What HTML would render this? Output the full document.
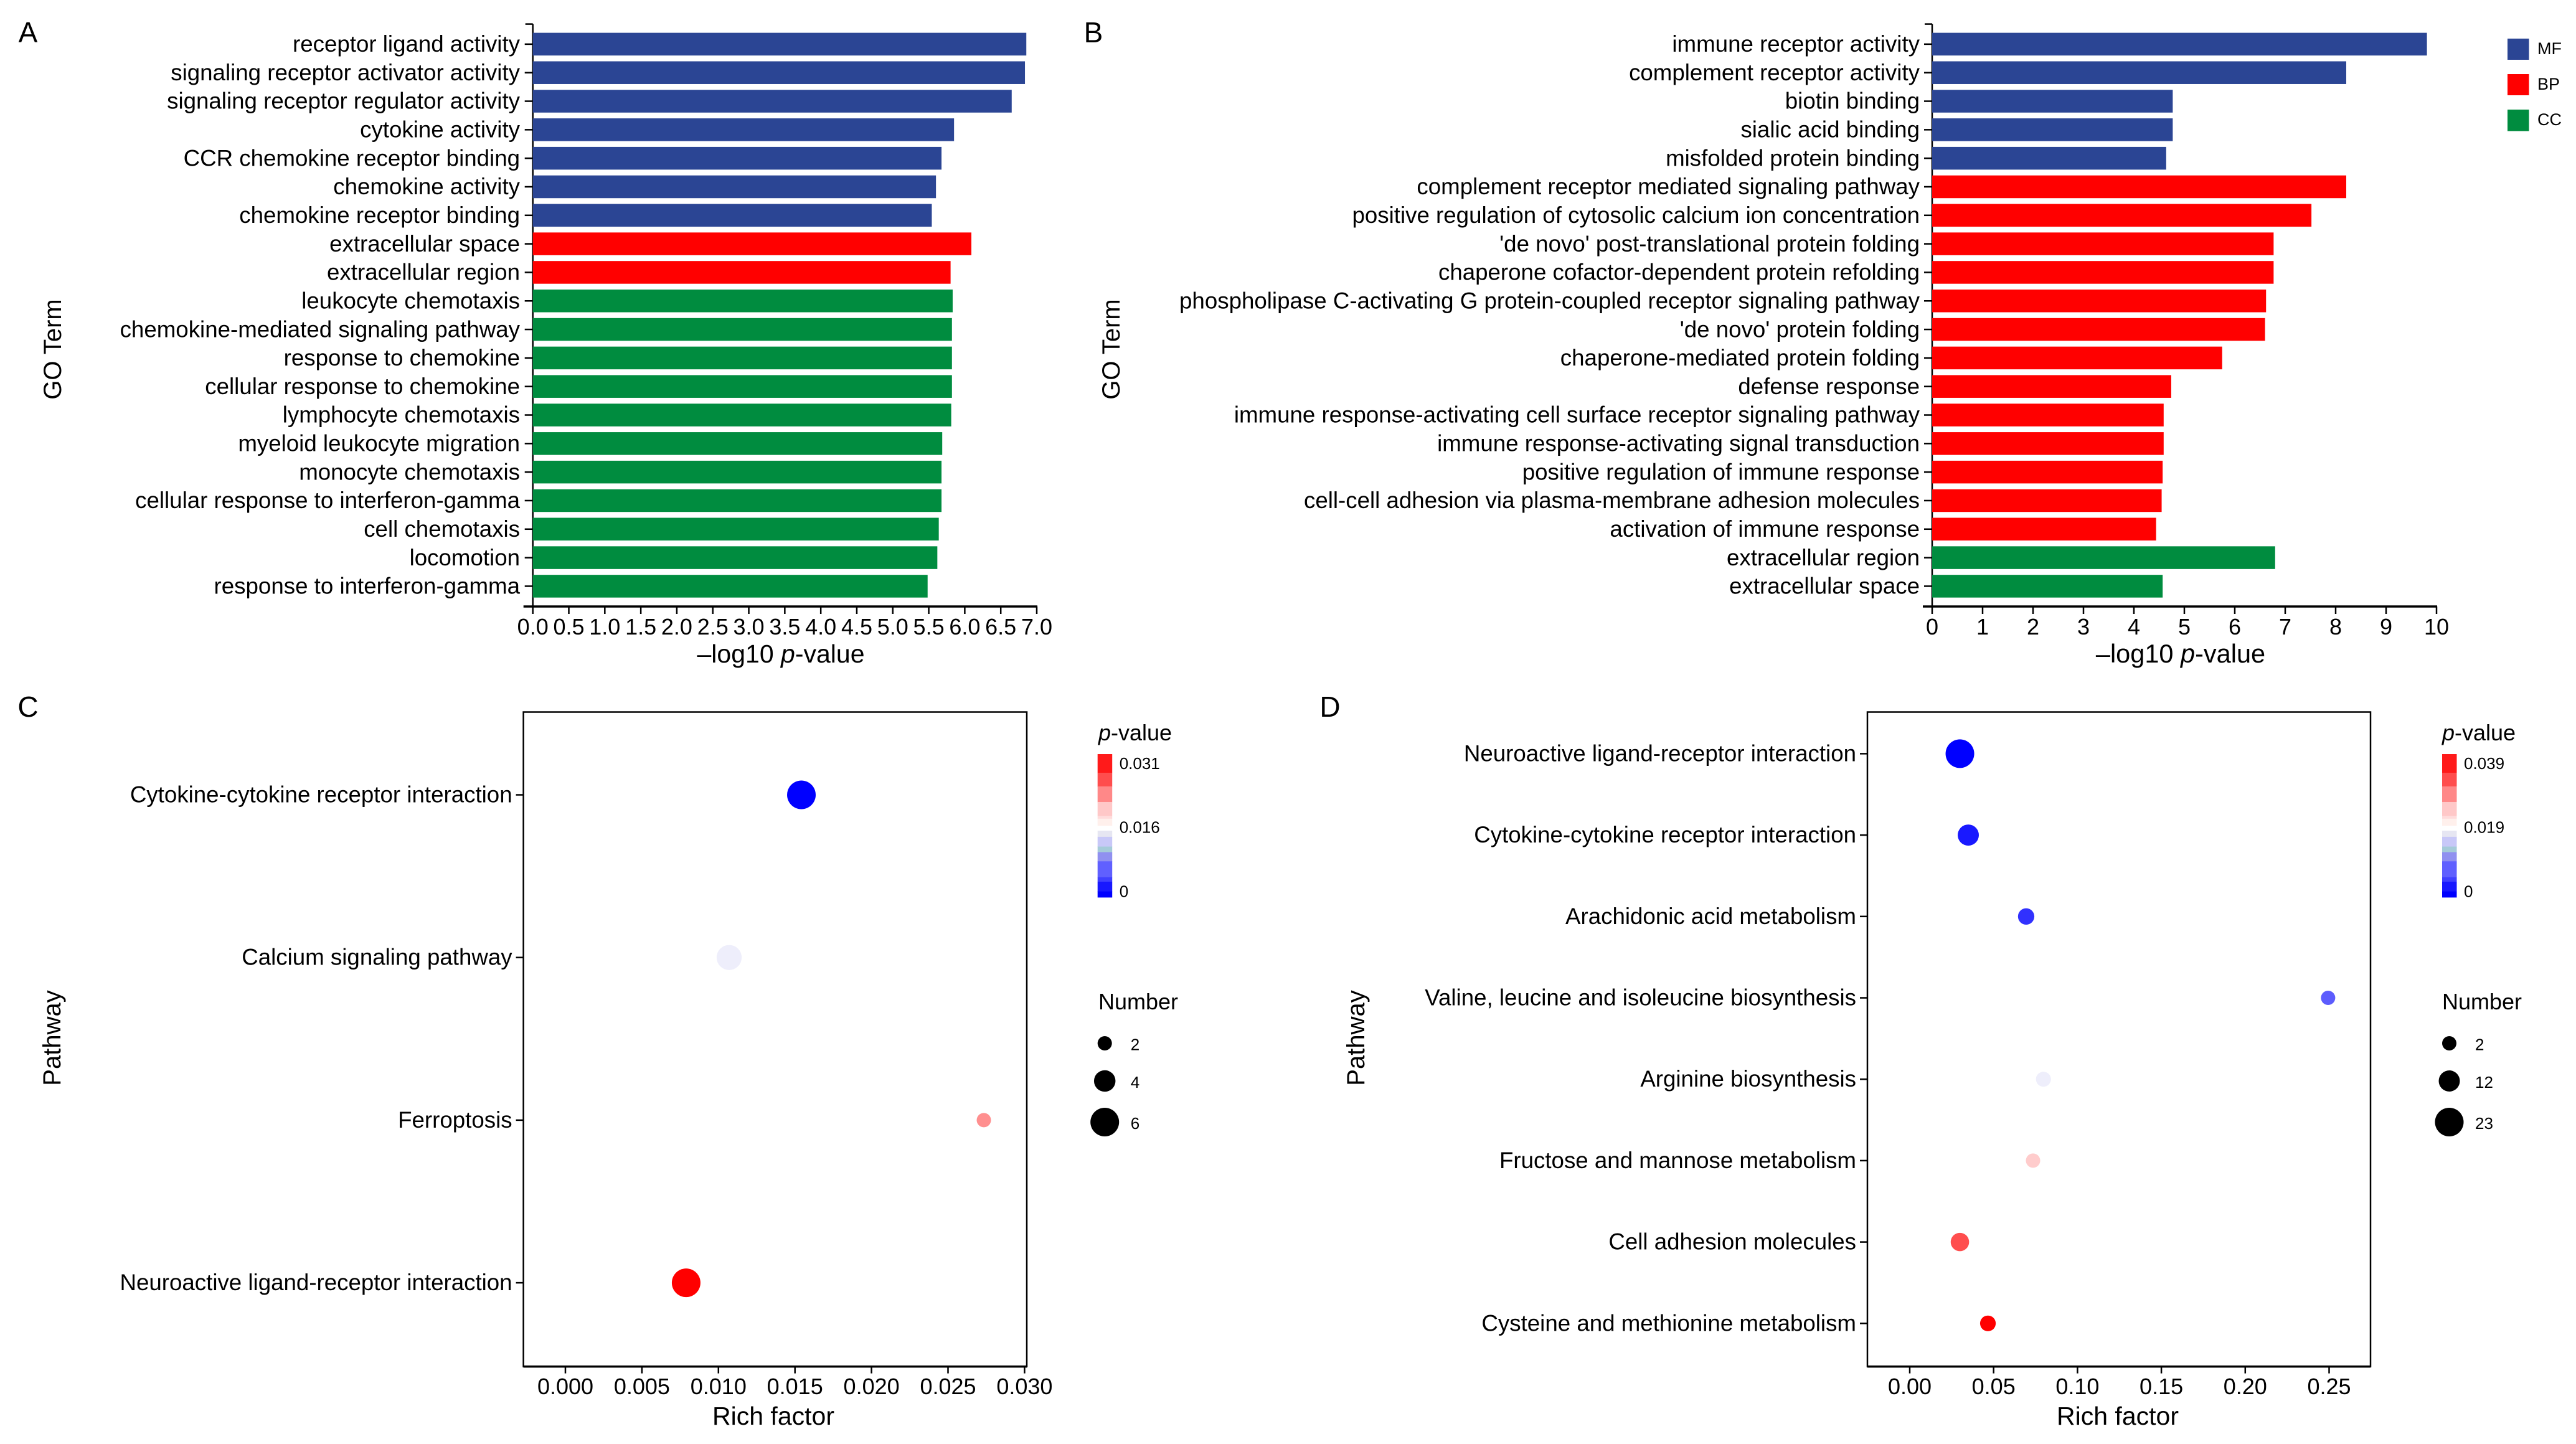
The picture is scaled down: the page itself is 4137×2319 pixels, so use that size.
<!DOCTYPE html>
<html lang="en">
<head>
<meta charset="utf-8">
<title>GO enrichment and pathway charts</title>
<style>
html,body{margin:0;padding:0;background:#fff;}
svg{display:block;}
text{font-family:"Liberation Sans",Arial,sans-serif;fill:#000;}
</style>
</head>
<body>
<svg id="figure" xmlns="http://www.w3.org/2000/svg" width="4137" height="2319" viewBox="0 0 4137 2319">
  <rect x="0" y="0" width="4137" height="2319" fill="#fff"/>

  <text x="45" y="68" font-size="46" text-anchor="middle">A</text>
  <text x="1756" y="68" font-size="46" text-anchor="middle">B</text>
  <text x="45" y="1151" font-size="46" text-anchor="middle">C</text>
  <text x="2136" y="1151" font-size="46" text-anchor="middle">D</text>

  <text transform="translate(98 561) rotate(-90)" font-size="40" text-anchor="middle">GO Term</text>
  <text transform="translate(1798 561) rotate(-90)" font-size="40" text-anchor="middle">GO Term</text>
  <text transform="translate(97 1667) rotate(-90)" font-size="40" text-anchor="middle">Pathway</text>
  <text transform="translate(2191 1667) rotate(-90)" font-size="40" text-anchor="middle">Pathway</text>

  <text x="1254" y="1064" font-size="41" text-anchor="middle">–log10 <tspan font-style="italic">p</tspan>-value</text>
  <text x="3502" y="1064" font-size="41.5" text-anchor="middle">–log10 <tspan font-style="italic">p</tspan>-value</text>
  <text x="1242" y="2288" font-size="41" text-anchor="middle">Rich factor</text>
  <text x="3401" y="2288" font-size="41" text-anchor="middle">Rich factor</text>

  <g>
    <rect x="4027" y="62" width="34.5" height="34" fill="#2b4594"/>
    <text x="4075" y="87" font-size="27">MF</text>
    <rect x="4027" y="119" width="34.5" height="34" fill="#ff0000"/>
    <text x="4075" y="144" font-size="27">BP</text>
    <rect x="4027" y="176" width="34.5" height="34.5" fill="#008c3f"/>
    <text x="4075" y="201" font-size="27">CC</text>
  </g>

  <text x="1764" y="1189" font-size="36"><tspan font-style="italic">p</tspan>-value</text>
  <text x="3922" y="1189" font-size="36"><tspan font-style="italic">p</tspan>-value</text>
  <text x="1764" y="1621" font-size="36">Number</text>
  <text x="3922" y="1621" font-size="36">Number</text>

  <g id="layer"></g>
</svg>

<script>
/* Panel A data */
const aCategories = ["receptor ligand activity","signaling receptor activator activity","signaling receptor regulator activity","cytokine activity","CCR chemokine receptor binding","chemokine activity","chemokine receptor binding","extracellular space","extracellular region","leukocyte chemotaxis","chemokine-mediated signaling pathway","response to chemokine","cellular response to chemokine","lymphocyte chemotaxis","myeloid leukocyte migration","monocyte chemotaxis","cellular response to interferon-gamma","cell chemotaxis","locomotion","response to interferon-gamma"];
const aValues = [6.855,6.836,6.652,5.851,5.677,5.600,5.542,6.092,5.803,5.832,5.822,5.822,5.822,5.812,5.687,5.677,5.677,5.639,5.619,5.484];
const aGroups = ["MF","MF","MF","MF","MF","MF","MF","BP","BP","CC","CC","CC","CC","CC","CC","CC","CC","CC","CC","CC"];
const aTicks = ["0.0","0.5","1.0","1.5","2.0","2.5","3.0","3.5","4.0","4.5","5.0","5.5","6.0","6.5","7.0"];

/* Panel B data */
const bCategories = ["immune receptor activity","complement receptor activity","biotin binding","sialic acid binding","misfolded protein binding","complement receptor mediated signaling pathway","positive regulation of cytosolic calcium ion concentration","'de novo' post-translational protein folding","chaperone cofactor-dependent protein refolding","phospholipase C-activating G protein-coupled receptor signaling pathway","'de novo' protein folding","chaperone-mediated protein folding","defense response","immune response-activating cell surface receptor signaling pathway","immune response-activating signal transduction","positive regulation of immune response","cell-cell adhesion via plasma-membrane adhesion molecules","activation of immune response","extracellular region","extracellular space"];
const bValues = [9.81,8.21,4.77,4.77,4.64,8.21,7.52,6.77,6.77,6.62,6.60,5.75,4.74,4.59,4.59,4.57,4.55,4.44,6.80,4.57];
const bGroups = ["MF","MF","MF","MF","MF","BP","BP","BP","BP","BP","BP","BP","BP","BP","BP","BP","BP","BP","CC","CC"];
const bTicks = ["0","1","2","3","4","5","6","7","8","9","10"];

/* Panel C data */
const cPathways = ["Cytokine-cytokine receptor interaction","Calcium signaling pathway","Ferroptosis","Neuroactive ligand-receptor interaction"];
const cRich = [0.01542,0.0107,0.02734,0.00789];
const cCounts = [6,5,2,6];
const cPvalues = [0,0.0152,0.0223,0.031];
const cTicks = ["0.000","0.005","0.010","0.015","0.020","0.025","0.030"];
const cColorLabels = ["0.031","0.016","0"];
const cSizeLabels = [2,4,6];

/* Panel D data */
const dPathways = ["Neuroactive ligand-receptor interaction","Cytokine-cytokine receptor interaction","Arachidonic acid metabolism","Valine, leucine and isoleucine biosynthesis","Arginine biosynthesis","Fructose and mannose metabolism","Cell adhesion molecules","Cysteine and methionine metabolism"];
const dRich = [0.0299,0.0349,0.0694,0.2494,0.0797,0.0735,0.0299,0.0466];
const dCounts = [23,12,5,2,3,2,8,4];
const dPvalues = [0,0.002,0.0039,0.0074,0.0191,0.0234,0.033,0.039];
const dTicks = ["0.00","0.05","0.10","0.15","0.20","0.25"];
const dColorLabels = ["0.039","0.019","0"];
const dSizeLabels = [2,12,23];

const groupColors = {MF:"#2b4594",BP:"#ff0000",CC:"#008c3f"};
const bandColors = ["#ff1a1a","#ff4d4d","#ff8888","#ffc8c8","#ffdcdc","#fff0ec","#ffffff","#e6e6f2","#c8c8f8","#a5cbd9","#9090f0","#6060ff","#4040ff","#1818ff","#0000ff"];
const bandEdges = [0,67,116,172,222,232,257,275,297,332,352,385,442,458,493,514];

const NS = "http://www.w3.org/2000/svg";
const layer = document.getElementById("layer");

function make(tag, attrs, parent){
  const e = document.createElementNS(NS, tag);
  for (const k in attrs) e.setAttribute(k, attrs[k]);
  (parent || layer).appendChild(e);
  return e;
}

function drawBarPanel(prefix, cats, vals, groups, ticks, xMax, x0, x1, rightLabel){
  const g = make("g", {});
  
  
  const top = 38.6, bottom = 974, firstY = 70.9, lastY = 941.4, barH = 36.5;
  const xs = v => x0 + (v / xMax) * (x1 - x0);
  const ys = i => firstY + i * (lastY - firstY) / (cats.length - 1);

  const yAxis = make("line", {x1:x0,x2:x0,y1:top,y2:bottom,stroke:"#000","stroke-width":2.5}, g);
  
  
  const topTick = make("line", {x1:x0-12,x2:x0,y1:top,y2:top,stroke:"#000","stroke-width":2.5}, g);
  
  

  cats.forEach((c, i) => {
    const y = ys(i);
    const bar = make("rect", {x:xs(0),y:y-barH/2,width:xs(vals[i])-xs(0),height:barH,fill:groupColors[groups[i]]}, g);
    
    
    const tick = make("line", {x1:x0-13,x2:x0,y1:y,y2:y,stroke:"#000","stroke-width":2.5}, g);
    
    
    const label = make("text", {x:rightLabel,y:y+12.2,"font-size":36.7,"text-anchor":"end"}, g);
    
    
    label.textContent = c;
  });

  const xAxis = make("line", {x1:x0-15,x2:x1+1,y1:bottom,y2:bottom,stroke:"#000","stroke-width":3.5}, g);
  
  
  ticks.forEach(t => {
    const x = xs(parseFloat(t));
    const tick = make("line", {x1:x,x2:x,y1:bottom,y2:bottom+12,stroke:"#000","stroke-width":2.5}, g);
    
    
    const label = make("text", {x:x,y:1019,"font-size":36,"text-anchor":"middle"}, g);
    
    
    label.textContent = t;
  });
}

function mix(a, b, t){ return Math.round(a + (b - a) * t); }
function pColor(p, pMax){
  const mid = pMax / 2;
  if (p <= mid){
    const t = p / mid;
    return "rgb(" + mix(0,243,t) + "," + mix(0,243,t) + "," + mix(255,251,t) + ")";
  }
  const t = (pMax - p) / mid;
  return "rgb(255," + mix(0,255,t) + "," + mix(0,255,t) + ")";
}

function drawDotPanel(prefix, names, rich, counts, pvals, ticks, colorLabels, sizeLabels, pMax, opt){
  const g = make("g", {});
  
  
  const top = 1143.5, bottom = 2194.6;
  const xs = v => opt.x0 + ((v - 0) / opt.tickMax) * (opt.x1 - opt.x0);
  const ys = i => opt.y0 + i * opt.dy;
  const sizeMin = sizeLabels[0], sizeMax = sizeLabels[sizeLabels.length-1];
  const dia = n => 23 + (n - sizeMin) / (sizeMax - sizeMin) * 23;

  const frame = make("rect", {x:opt.left,y:top,width:opt.right-opt.left,height:bottom-top,fill:"none",stroke:"#000","stroke-width":2.5}, g);
  
  
  const base = make("line", {x1:opt.left,x2:opt.right,y1:bottom,y2:bottom,stroke:"#000","stroke-width":3.5}, g);
  
  

  ticks.forEach(t => {
    const x = xs(parseFloat(t));
    const tick = make("line", {x1:x,x2:x,y1:bottom,y2:bottom+11,stroke:"#000","stroke-width":2.5}, g);
    
    
    const label = make("text", {x:x,y:2239,"font-size":36,"text-anchor":"middle"}, g);
    
    
    label.textContent = t;
  });

  names.forEach((n, i) => {
    const y = ys(i);
    const tick = make("line", {x1:opt.left-12,x2:opt.left,y1:y,y2:y,stroke:"#000","stroke-width":2.5}, g);
    
    
    const label = make("text", {x:opt.left-18,y:y+12,"font-size":36.7,"text-anchor":"end"}, g);
    
    
    label.textContent = n;
    const dot = make("circle", {cx:xs(rich[i]),cy:y,r:dia(counts[i])/2,fill:pColor(pvals[i],pMax)}, g);
    
    
  });

  const barTop = 1211, barH = 230, unit = barH / bandEdges[bandEdges.length-1];
  bandColors.forEach((c, i) => {
    const band = make("rect", {x:opt.barX,y:barTop+bandEdges[i]*unit,width:23.5,height:(bandEdges[i+1]-bandEdges[i])*unit+0.4,fill:c}, g);
    
    
  });
  const colorY = [1225.5, 1328, 1431];
  colorLabels.forEach((t, i) => {
    const label = make("text", {x:opt.barX+35,y:colorY[i]+9.5,"font-size":26}, g);
    
    
    label.textContent = t;
  });

  const sizeY = [1675.5, 1736, 1802];
  sizeLabels.forEach((n, i) => {
    const c = make("circle", {cx:opt.barX+11.5,cy:sizeY[i],r:dia(n)/2,fill:"#000"}, g);
    
    
    const label = make("text", {x:opt.barX+53,y:sizeY[i]+11,"font-size":26}, g);
    
    
    label.textContent = n;
  });
}

drawBarPanel("panel-a", aCategories, aValues, aGroups, aTicks, 7, 855.7, 1665, 835);
drawBarPanel("panel-b", bCategories, bValues, bGroups, bTicks, 10, 3103, 3913, 3083);
drawDotPanel("panel-c", cPathways, cRich, cCounts, cPvalues, cTicks, cColorLabels, cSizeLabels, 0.031,
  {left:840.6,right:1649,x0:908,x1:1645.4,tickMax:0.03,y0:1276.5,dy:261.2,barX:1762.7});
drawDotPanel("panel-d", dPathways, dRich, dCounts, dPvalues, dTicks, dColorLabels, dSizeLabels, 0.039,
  {left:2999,right:3807,x0:3067,x1:3740.5,tickMax:0.25,y0:1210.4,dy:130.7,barX:3922});
</script>
</body>
</html>
